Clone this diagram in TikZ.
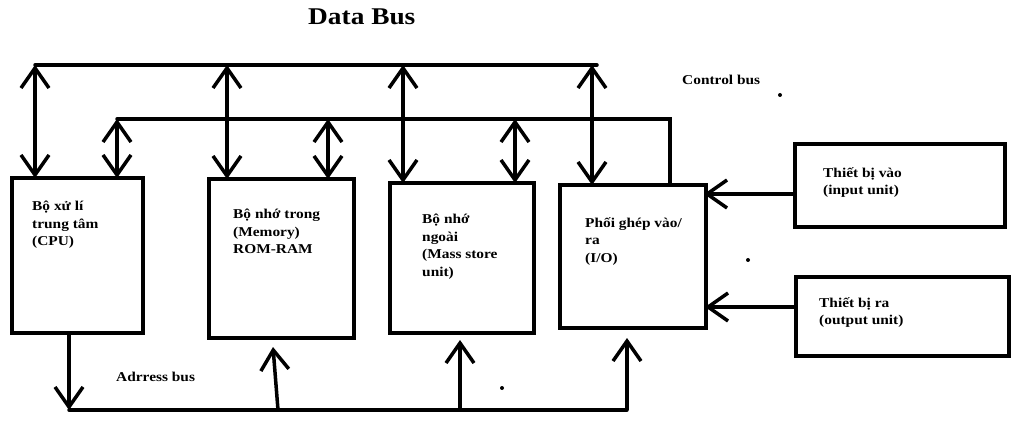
\documentclass[tikz,border=0pt]{standalone}
\usepackage{fontspec}
\setmainfont{Liberation Serif}[FakeStretch=1.14]
\usetikzlibrary{arrows.meta}
\begin{document}
\begin{tikzpicture}[x=1pt,y=-1pt,
  bus/.style={line width=3.5pt, line cap=round, line join=miter},
  box/.style={draw, line width=3.5pt, inner sep=0pt, outer sep=0pt},
  txt/.style={font=\bfseries\fontsize{13.5}{17.5}\selectfont, align=left, anchor=north west, inner sep=0pt},
  tip/.tip={Straight Barb[length=20pt,width=28pt]},
  dbl/.style={line width=3.5pt, tip-tip},
  sgl/.style={line width=3.5pt, -tip}]
\path[use as bounding box, fill=white] (0,0) rectangle (1024,427);

% titles
\node[font=\bfseries\fontsize{24}{28}\selectfont, anchor=base west, inner sep=0pt] (title) at (308,25) {Data Bus};
\node[font=\bfseries\fontsize{13.5}{16}\selectfont, anchor=base west, inner sep=0pt] (ctl) at (682,85) {Control bus};
\node[font=\bfseries\fontsize{13.5}{16}\selectfont, anchor=base west, inner sep=0pt] (adr) at (116,381) {Adrress bus};

% boxes
\node[box, minimum width=131pt, minimum height=155pt] (cpu) at (77.5,255.5) {};
\node[box, minimum width=145pt, minimum height=159pt] (mem) at (281.5,258.5) {};
\node[box, minimum width=144pt, minimum height=150pt] (mass) at (462,258) {};
\node[box, minimum width=146pt, minimum height=143pt] (io) at (633,256.5) {};
\node[box, minimum width=210pt, minimum height=83pt] (in) at (900,185.5) {};
\node[box, minimum width=213pt, minimum height=79pt] (out) at (902.5,316.5) {};

% box texts
\node[txt] (cpuT) at (32,201) {Bộ xử lí\\trung tâm\\(CPU)};
\node[txt] (memT) at (233,209) {Bộ nhớ trong\\(Memory)\\ROM-RAM};
\node[txt] (massT) at (422,214) {Bộ nhớ\\ngoài\\(Mass store\\unit)};
\node[txt] (ioT) at (585,217) {Phối ghép vào/\\ra\\(I/O)};
\node[txt] (inT) at (823,167) {Thiết bị vào\\(input unit)};
\node[txt] (outT) at (819,297) {Thiết bị ra\\(output unit)};

% data bus
\coordinate (dbL) at (35,65);
\coordinate (d2) at (227,65);
\coordinate (d3) at (403,65);
\coordinate (d4) at (592,65);
\coordinate (dbR) at (597,65);
\draw[bus] (dbL) -- (dbR);
\draw[dbl] (dbL) -- (dbL |- cpu.north);
\draw[dbl] (d2) -- (d2 |- mem.north);
\draw[dbl] (d3) -- (d3 |- mass.north);
\draw[dbl] (d4) -- (d4 |- io.north);

% control bus
\coordinate (cbL) at (117,119);
\coordinate (c2) at (328,119);
\coordinate (c3) at (515,119);
\coordinate (cbR) at (670,119);
\draw[bus] (cbL) -- (cbR) -- (cbR |- io.north);
\draw[dbl] (cbL) -- (cbL |- cpu.north);
\draw[dbl] (c2) -- (c2 |- mem.north);
\draw[dbl] (c3) -- (c3 |- mass.north);

% address bus
\coordinate (abL) at (69,410);
\coordinate (a2) at (278,410);
\coordinate (a3) at (460,410);
\coordinate (abR) at (627,410);
\coordinate (m2) at (273,347);
\draw[bus] (abL) -- (abR);
\draw[sgl] (abL |- cpu.south) -- (abL);
\draw[sgl] (a2) -- (m2);
\draw[sgl, shorten >=7pt] (a3) -- (a3 |- mass.south);
\draw[sgl, shorten >=10pt] (abR) -- (abR |- io.south);

% input / output
\coordinate (i1) at (795,194);
\coordinate (o1) at (796,307);
\draw[sgl, shorten >=-2pt] (i1) -- (i1 -| io.east);
\draw[sgl, shorten >=-1pt] (o1) -- (o1 -| io.east);

% stray dots
\fill (780,95) circle (2pt);
\fill (748,260) circle (2pt);
\fill (502,388) circle (2pt);
\end{tikzpicture}
\end{document}
